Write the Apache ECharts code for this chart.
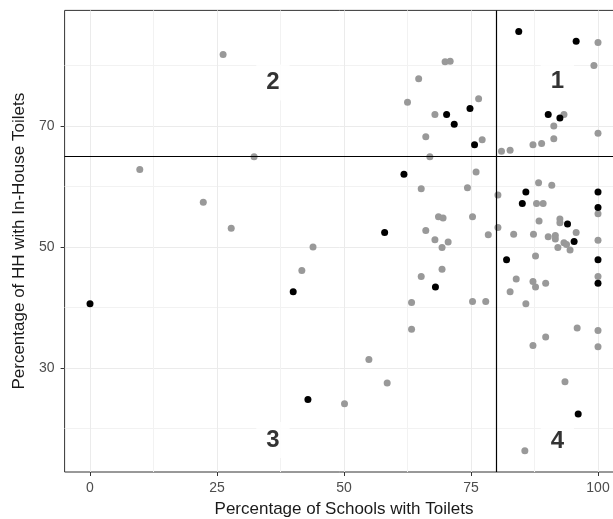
<!DOCTYPE html>
<html>
<head>
<meta charset="utf-8">
<script src="https://cdn.jsdelivr.net/npm/echarts@6/dist/echarts.min.js"></script>
<style>
  html, body { margin: 0; padding: 0; background: #fff; }
  #chart { width: 613px; height: 519px; }
</style>
</head>
<body>
<div id="chart"></div>
<script>
// districts outside the highlighted group (grey)
const greyPoints = [
  [26.2, 81.8], [32.3, 64.9], [9.8, 62.8], [22.3, 57.4], [27.8, 53.1],
  [69.9, 80.6], [70.9, 80.7], [64.7, 77.8], [62.5, 73.9], [76.5, 74.5],
  [67.9, 71.9], [66.1, 68.2], [66.9, 64.9], [77.2, 67.7],
  [81.0, 65.8], [82.7, 66.0], [87.2, 66.9], [88.9, 67.1], [91.3, 67.9],
  [91.3, 70.0], [93.3, 71.9], [100, 68.8], [100, 83.8], [99.2, 80.0],
  [76.0, 62.4], [65.2, 59.6], [74.3, 59.8], [80.3, 58.6], [88.3, 60.6],
  [90.9, 60.2], [87.9, 57.2], [89.2, 57.2], [100, 55.5],
  [68.6, 55.0], [69.5, 54.8], [75.3, 55.0], [88.4, 54.3], [92.5, 54.6],
  [92.5, 54.0], [66.1, 52.7], [80.3, 53.2], [78.4, 52.0], [83.4, 52.1],
  [87.3, 52.1], [90.2, 51.7], [91.6, 51.9], [91.6, 51.3], [95.7, 52.4],
  [67.9, 51.2], [70.5, 50.8], [69.3, 49.9], [93.3, 50.7], [93.8, 50.4],
  [92.1, 49.9], [94.5, 49.5], [100, 51.1],
  [87.7, 48.5], [100, 45.1], [69.3, 46.3], [65.2, 45.1], [83.9, 44.7],
  [87.2, 44.3], [87.7, 43.4], [89.7, 44.0], [82.7, 42.6], [85.8, 40.6],
  [63.3, 40.8], [75.3, 41.0], [77.9, 41.0],
  [63.3, 36.4], [95.9, 36.6], [100, 36.2], [100, 33.5], [89.7, 35.1], [87.2, 33.7],
  [54.9, 31.4], [58.5, 27.5], [50.1, 24.1], [93.5, 27.7], [85.6, 16.3],
  [43.9, 50.0], [41.7, 46.1]
];

// highlighted districts (black)
const blackPoints = [
  [84.4, 85.6], [95.7, 84.0], [74.8, 72.9], [70.2, 71.9], [71.7, 70.3],
  [75.7, 66.9], [90.2, 71.9], [92.5, 71.3],
  [61.8, 62.0], [85.8, 59.1], [85.1, 57.2], [100, 59.1], [100, 56.5],
  [94.0, 53.8], [58.0, 52.4], [95.3, 50.9],
  [82.0, 47.9], [100, 47.9], [100, 44.0], [68.0, 43.4], [96.1, 22.4],
  [40.0, 42.6], [0, 40.6], [42.9, 24.8]
];

// cut-offs splitting the plot in quadrants
const schoolCut = 80;
const hhCut = 65;

// quadrant labels [x, y, text]
const quadrantLabels = [
  [92, 77.4, '1'],
  [36, 77.2, '2'],
  [36, 18.1, '3'],
  [92, 17.9, '4']
];

const xMajorTicks = [0, 25, 50, 75, 100];
const xMinorTicks = [12.5, 37.5, 62.5, 87.5];
const yMajorTicks = [30, 50, 70];
const yMinorTicks = [20, 40, 60, 80];

const xRange = [-5, 105];
const yRange = [12.8, 89.1];

const fontFam = '"Liberation Sans", Arial, sans-serif';

const chart = echarts.init(document.getElementById('chart'), null, { renderer: 'canvas' });

const minorAxis = (ticks, range, position) => ({
  type: 'value',
  position: position,
  min: range[0],
  max: range[1],
  axisLine: { show: false, onZero: false },
  axisTick: { show: false, customValues: ticks },
  axisLabel: { show: false, customValues: ticks },
  splitLine: { show: true, lineStyle: { color: '#f2f2f2', width: 1 } }
});

chart.setOption({
  animation: false,
  backgroundColor: '#fff',
  grid: {
    left: 64.6,
    top: 10.4,
    width: 558.8,
    bottom: 47,
    containLabel: false,
    outerBoundsMode: 'none',
    show: true,
    borderColor: '#333',
    borderWidth: 1,
    backgroundColor: '#fff'
  },
  xAxis: [
    minorAxis(xMinorTicks, xRange, 'bottom'),
    {
      type: 'value',
      position: 'bottom',
      min: xRange[0],
      max: xRange[1],
      name: 'Percentage of Schools with Toilets',
      nameLocation: 'middle',
      nameGap: 29,
      nameTextStyle: { color: '#1a1a1a', fontSize: 17, fontFamily: fontFam },
      axisLine: { show: false, onZero: false },
      axisTick: { show: true, length: 4, customValues: xMajorTicks, lineStyle: { color: '#333' } },
      axisLabel: { customValues: xMajorTicks, margin: 9, color: '#4d4d4d', fontSize: 14, fontFamily: fontFam },
      splitLine: { show: true, lineStyle: { color: '#ebebeb', width: 1 } }
    }
  ],
  yAxis: [
    minorAxis(yMinorTicks, yRange, 'left'),
    {
      type: 'value',
      position: 'left',
      min: yRange[0],
      max: yRange[1],
      name: 'Percentage of HH with In-House Toilets',
      nameLocation: 'middle',
      nameGap: 32,
      nameTextStyle: { color: '#1a1a1a', fontSize: 17, fontFamily: fontFam },
      axisLine: { show: false, onZero: false },
      axisTick: { show: true, length: 4, customValues: yMajorTicks, lineStyle: { color: '#333' } },
      axisLabel: { customValues: yMajorTicks, margin: 10, color: '#4d4d4d', fontSize: 14, fontFamily: fontFam },
      splitLine: { show: true, lineStyle: { color: '#ebebeb', width: 1 } }
    }
  ],
  series: [
    {
      name: 'other',
      type: 'scatter',
      xAxisIndex: 1,
      yAxisIndex: 1,
      data: greyPoints,
      symbolSize: 7,
      itemStyle: { color: '#999999', opacity: 1 },
      markLine: {
        silent: true,
        symbol: 'none',
        label: { show: false },
        lineStyle: { color: '#000', width: 1.2, type: 'solid' },
        data: [{ xAxis: schoolCut }, { yAxis: hhCut }]
      },
      z: 3
    },
    {
      name: 'highlight',
      type: 'scatter',
      xAxisIndex: 1,
      yAxisIndex: 1,
      data: blackPoints,
      symbolSize: 7,
      itemStyle: { color: '#000', opacity: 1 },
      z: 4
    },
    {
      name: 'quadrants',
      type: 'scatter',
      xAxisIndex: 1,
      yAxisIndex: 1,
      data: quadrantLabels,
      symbolSize: 1,
      itemStyle: { color: '#fff' },
      label: {
        show: true,
        position: 'inside',
        formatter: p => p.value[2],
        color: '#000',
        fontSize: 24,
        fontWeight: 'bold',
        fontFamily: '"Liberation Sans Narrow", "Liberation Sans", sans-serif',
        backgroundColor: '#fff',
        padding: [6, 10]
      },
      z: 5
    }
  ]
});
</script>
</body>
</html>
